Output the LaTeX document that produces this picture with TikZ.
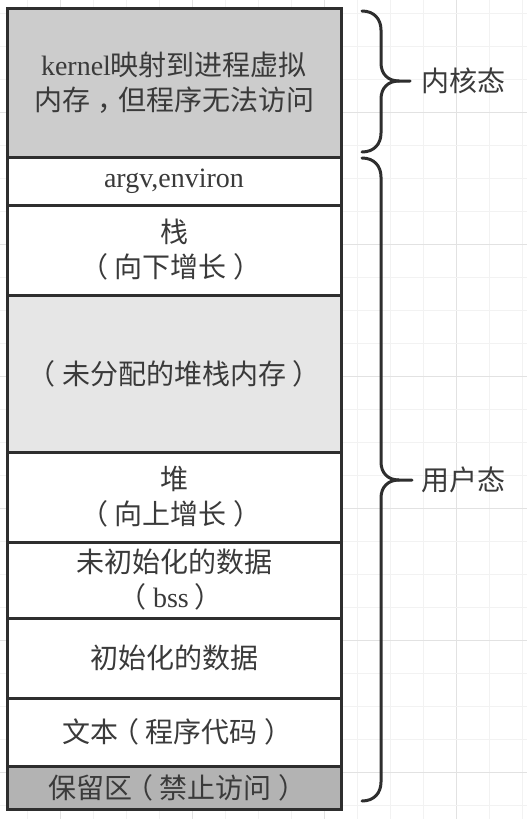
\documentclass[tikz,border=0pt]{standalone}
\usepackage{fontspec}
\setmainfont{Liberation Serif}
\newfontfamily\cjk{Noto Sans CJK SC}
\newfontfamily\lat{Liberation Serif}
\newcommand\LPar{\hspace{-0.22em}（\hspace{0.22em}}
\newcommand\RPar{\hspace{0.22em}）\hspace{-0.22em}}
\newcommand\CComma{\hspace{0.25em}，\hspace{-0.25em}}
\definecolor{edge}{HTML}{2E2E2E}
\definecolor{txt}{HTML}{3A3A3A}
\definecolor{kgray}{HTML}{CCCCCC}
\definecolor{ugray}{HTML}{E6E6E6}
\definecolor{rgray}{HTML}{B3B3B3}
\definecolor{gminor}{HTML}{F2F2F2}
\definecolor{gmajor}{HTML}{E2E2E2}
\begin{document}
\begin{tikzpicture}[x=1pt,y=-1pt,
  seg/.style={draw=edge, line width=3pt, minimum width=334pt, inner sep=0pt, outer sep=0pt,
    anchor=north west, align=center, text=txt, font=\cjk\fontsize{28}{35}\selectfont},
  lbl/.style={text=txt, inner sep=0pt, font=\cjk\fontsize{28}{35}\selectfont},
  brace/.style={draw=edge, line width=3pt, line cap=round, line join=round}]
\useasboundingbox (0,0) rectangle (527,819);
\fill[white] (0,0) rectangle (527,819);
% background grid
\foreach \i in {0,...,15} {
  \pgfmathtruncatemacro{\m}{mod(\i,4)}
  \ifnum\m=1 \draw[gmajor, line width=1pt] ({27+33*\i},0) -- ({27+33*\i},819);
  \else \draw[gminor, line width=1pt] ({27+33*\i},0) -- ({27+33*\i},819); \fi
}
\foreach \j in {0,...,24} {
  \pgfmathtruncatemacro{\m}{mod(\j,4)}
  \ifnum\m=3 \draw[gmajor, line width=1pt] (0,{13+33*\j}) -- (527,{13+33*\j});
  \else \draw[gminor, line width=1pt] (0,{13+33*\j}) -- (527,{13+33*\j}); \fi
}
% memory segments
\node[seg, fill=kgray, minimum height=149pt] (k) at (7,8) {{\lat kernel}映射到进程虚拟\\内存\CComma 但程序无法访问};
\node[seg, fill=white, minimum height=48pt] (a) at (7,157) {\raisebox{-2pt}{\lat argv,environ}};
\node[seg, fill=white, minimum height=90pt] (s) at (7,205) {栈\\\LPar 向下增长\RPar};
\node[seg, fill=ugray, minimum height=157pt] (u) at (7,295) {\LPar 未分配的堆栈内存\RPar};
\node[seg, fill=white, minimum height=90pt] (h) at (7,452) {堆\\\LPar 向上增长\RPar};
\node[seg, fill=white, minimum height=76pt] (b) at (7,542) {未初始化的数据\\\LPar{\lat bss}\RPar};
\node[seg, fill=white, minimum height=80pt] (d) at (7,618) {初始化的数据};
\node[seg, fill=white, minimum height=68pt] (t) at (7,698) {文本\LPar 程序代码\RPar};
\node[seg, fill=rgray, minimum height=43pt] (r) at (7,766) {保留区\LPar 禁止访问\RPar};
% braces
\coordinate (kt) at (362,11);
\coordinate (kb) at (362,152);
\coordinate (ktip) at (410,81);
\coordinate (ut) at (362,158);
\coordinate (ub) at (362,801);
\coordinate (utip) at (412,480);
\draw[brace] (kt) .. controls (374,11) and (381,19) .. (381,30) -- (381,63)
  .. controls (381,74) and (388,81) .. (399,81) -- (ktip);
\draw[brace] (kb) .. controls (374,152) and (381,144) .. (381,133) -- (381,99)
  .. controls (381,88) and (388,81) .. (399,81);
\draw[brace] (ut) .. controls (374,158) and (381,166) .. (381,177) -- (381,462)
  .. controls (381,473) and (388,480) .. (399,480) -- (utip);
\draw[brace] (ub) .. controls (374,801) and (381,793) .. (381,782) -- (381,498)
  .. controls (381,487) and (388,480) .. (399,480);
\node[lbl, anchor=west] (kl) at (421,81) {内核态};
\node[lbl, anchor=west] (ul) at (421,480) {用户态};
\end{tikzpicture}
\end{document}
